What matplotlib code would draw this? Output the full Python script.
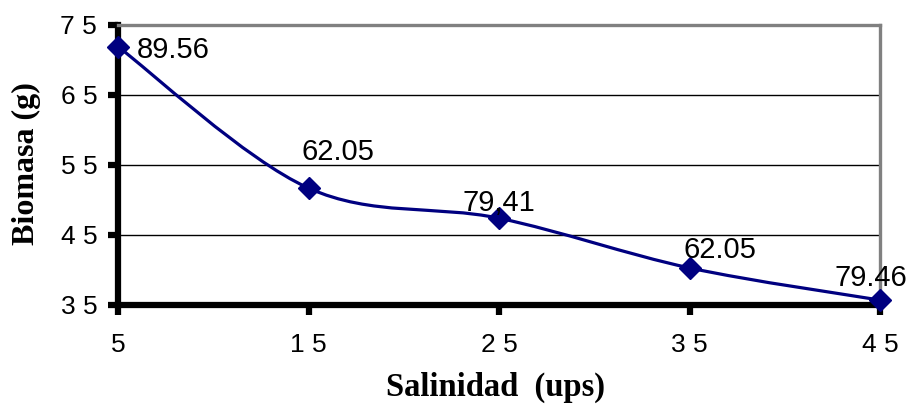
import matplotlib
matplotlib.use("Agg")
import matplotlib.pyplot as plt
import numpy as np
from matplotlib.path import Path
from matplotlib.patches import PathPatch

salinidad = [5, 15, 25, 35, 45]
biomasa = [71.9, 51.7, 47.4, 40.3, 35.7]
etiquetas = ["89.56", "62.05", "79,41", "62.05", "79.46"]
yticks = [35, 45, 55, 65, 75]
ytick_labels = ["3 5", "4 5", "5 5", "6 5", "7 5"]
xtick_labels = ["5", "1 5", "2 5", "3 5", "4 5"]

navy = "#000080"

fig = plt.figure(figsize=(9.17, 4.05), dpi=100)
ax = fig.add_axes([118/917, 1 - 305/405, (880-118)/917, (305-25)/405])

# Excel-like smooth line (Bezier through points)
x = np.array(salinidad, float)
y = np.array(biomasa, float)
verts = [(x[0], y[0])]
codes = [Path.MOVETO]
n = len(x)
for i in range(n - 1):
    p0 = np.array([x[max(i-1, 0)], y[max(i-1, 0)]])
    p1 = np.array([x[i], y[i]])
    p2 = np.array([x[i+1], y[i+1]])
    p3 = np.array([x[min(i+2, n-1)], y[min(i+2, n-1)]])
    c1 = p1 + (p2 - p0) / 6.0
    c2 = p2 - (p3 - p1) / 6.0
    verts += [tuple(c1), tuple(c2), tuple(p2)]
    codes += [Path.CURVE4, Path.CURVE4, Path.CURVE4]
ax.add_patch(PathPatch(Path(verts, codes), facecolor="none", edgecolor=navy,
                       lw=2.3, zorder=3, clip_on=False))
ax.plot(salinidad, biomasa, linestyle="none", marker="D", markersize=11,
        color=navy, zorder=4, clip_on=False)

# label offsets in pixels (dx, dy) and horizontal alignment
offsets = [(19, -3, "left"), (29, 36, "center"), (0, 15, "center"),
           (30, 18, "center"), (-9, 22, "center")]
for (xv, yv, t), (dx, dy, ha) in zip(zip(salinidad, biomasa, etiquetas), offsets):
    ax.annotate(t, (xv, yv), xytext=(dx, dy), textcoords="offset pixels",
                ha=ha, va="center", fontsize=21, family="Liberation Sans",
                zorder=5, annotation_clip=False)

ax.set_xlim(5, 45)
ax.set_ylim(35, 75)
ax.set_xticks(salinidad)
ax.set_xticklabels(xtick_labels, family="Liberation Sans", fontsize=19)
ax.set_yticks(yticks)
ax.set_yticklabels(ytick_labels, family="Liberation Sans", fontsize=19)
ax.tick_params(axis="both", direction="out", length=7, width=4.5, color="black")
ax.tick_params(axis="x", pad=13)
ax.tick_params(axis="y", pad=8)

for yv in [45, 55, 65]:
    ax.axhline(yv, color="black", lw=1, zorder=1)

ax.spines["left"].set_linewidth(4.5)
ax.spines["bottom"].set_linewidth(4.5)
ax.spines["left"].set_zorder(2)
ax.spines["bottom"].set_zorder(2)
ax.spines["top"].set_color("#808080")
ax.spines["right"].set_color("#808080")
ax.spines["top"].set_linewidth(2.4)
ax.spines["right"].set_linewidth(2.4)

fig.text(496/917, 1 - 387/405, "Salinidad  (ups)", ha="center", va="center",
         fontsize=23.5, fontweight="bold", family="Liberation Serif")
fig.text(26/917, 1 - 164/405, "Biomasa (g)", ha="center", va="center",
         rotation=90, fontsize=23, fontweight="bold", family="Liberation Serif")

fig.savefig("out.png", dpi=100)
